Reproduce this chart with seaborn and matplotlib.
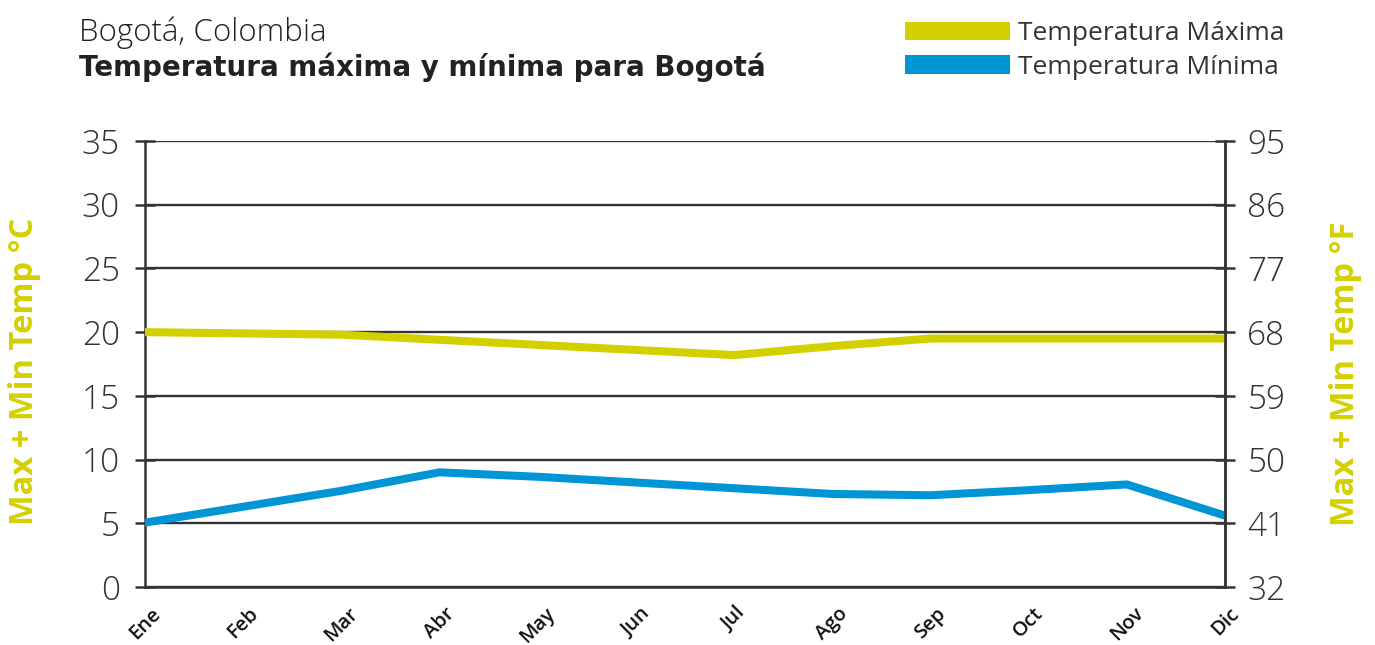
import matplotlib
matplotlib.use("Agg")
import matplotlib.pyplot as plt
import seaborn as sns
import pandas as pd
from matplotlib.patches import Patch

months = ["Ene", "Feb", "Mar", "Abr", "May", "Jun", "Jul", "Ago", "Sep", "Oct", "Nov", "Dic"]
temp_max = [20.0, 19.9, 19.8, 19.4, 19.0, 18.6, 18.2, 18.9, 19.5, 19.5, 19.5, 19.5]
temp_min = [5.05, 6.3, 7.55, 9.0, 8.65, 8.2, 7.75, 7.3, 7.2, 7.6, 8.05, 5.6]
c_ticks = [0, 5, 10, 15, 20, 25, 30, 35]
f_ticks = [32, 41, 50, 59, 68, 77, 86, 95]
series_names = ["Temperatura Máxima", "Temperatura Mínima"]

YELLOW = "#D4D000"
BLUE = "#0096D6"
DARK = "#333333"

sns.set_theme(style="white")
plt.rcParams["font.family"] = ["Open Sans", "DejaVu Sans"]

df = pd.DataFrame({
    "mes": months * 2,
    "temp": temp_max + temp_min,
    "serie": [series_names[0]] * 12 + [series_names[1]] * 12,
})

fig = plt.figure(figsize=(13.75, 6.45), dpi=100)
ax = fig.add_axes([145 / 1375, (645 - 587) / 645, 1080 / 1375, (587 - 141) / 645])

sns.lineplot(data=df, x="mes", y="temp", hue="serie", palette=[YELLOW, BLUE],
             linewidth=5.8, sort=False, ax=ax, legend=False, zorder=3)

ax.set_xlim(0, 11)
ax.set_ylim(0, 35)
ax.set_yticks(c_ticks)
ax.set_xlabel("")
ax.set_ylabel("")
ax.yaxis.grid(True, color=DARK, linewidth=1.7, zorder=1)
ax.xaxis.grid(False)
for s in ["left", "right", "bottom"]:
    ax.spines[s].set_visible(True)
    ax.spines[s].set_color(DARK)
    ax.spines[s].set_linewidth(1.8)
ax.spines["top"].set_visible(False)
ax.tick_params(axis="y", direction="inout", length=14, width=1.8, color=DARK,
               labelsize=24, labelcolor=DARK, pad=11)
for lab in ax.get_yticklabels():
    lab.set_fontweight("light")
ax.tick_params(axis="x", length=0, pad=12, labelsize=14.5, labelcolor="#111111")
ax.set_xticks(range(12))
ax.set_xticklabels(months, rotation=45, ha="center", fontweight="semibold")

ax2 = ax.twinx()
ax2.set_ylim(32, 95)
ax2.set_yticks(f_ticks)
ax2.spines["right"].set_color(DARK)
ax2.spines["right"].set_linewidth(1.8)
ax2.spines["top"].set_visible(False)
ax2.spines["left"].set_visible(False)
ax2.spines["bottom"].set_visible(False)
ax2.tick_params(axis="y", direction="inout", length=14, width=1.8, color=DARK,
                labelsize=24, labelcolor=DARK, pad=9)
for lab in ax2.get_yticklabels():
    lab.set_fontweight("light")
ax2.grid(False)

fig.text(25 / 1375, 1 - 371 / 645, "Max + Min Temp °C", rotation=90, color=YELLOW,
         fontsize=23.5, fontweight="bold", ha="center", va="center")
fig.text(1345 / 1375, 1 - 374 / 645, "Max + Min Temp °F", rotation=90, color=YELLOW,
         fontsize=23.5, fontweight="bold", ha="center", va="center")

fig.text(79 / 1375, 1 - 33 / 645, "Bogotá, Colombia", fontsize=22.5, fontweight="light",
         color="#222222", ha="left", va="center")
fig.text(79 / 1375, 1 - 67 / 645, "Temperatura máxima y mínima para Bogotá", fontsize=20,
         fontweight="bold", color="#222222", ha="left", va="center",
         family=["DejaVu Sans"])

handles = [Patch(facecolor=YELLOW, edgecolor="none"), Patch(facecolor=BLUE, edgecolor="none")]
fig.legend(handles, series_names, loc="upper left", bbox_to_anchor=(905 / 1375, 1 - 21 / 645),
           frameon=False, fontsize=19, handlelength=3.98, handleheight=0.68,
           handletextpad=0.3, labelspacing=0.33, borderpad=0, borderaxespad=0,
           labelcolor="#333333")

fig.savefig("out.png", dpi=100)
